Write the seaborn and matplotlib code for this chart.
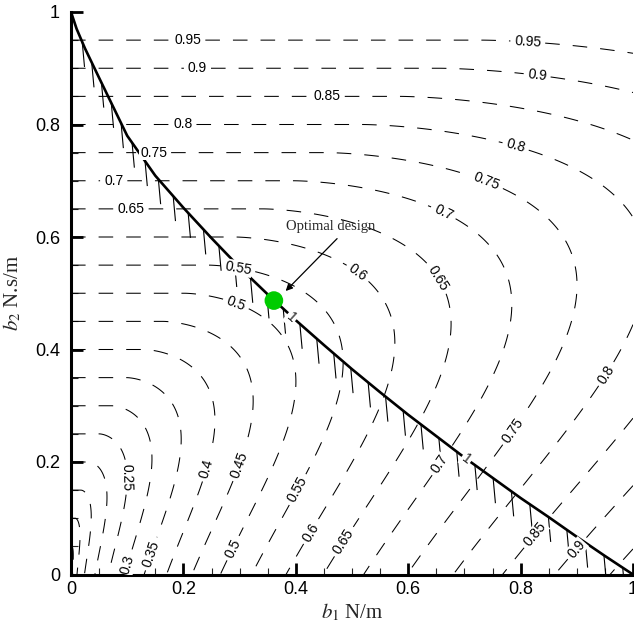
import numpy as np
import matplotlib
matplotlib.use("Agg")
import matplotlib.pyplot as plt
import seaborn as sns
from matplotlib.ticker import MultipleLocator, FuncFormatter
from matplotlib.collections import LineCollection

# ---------------- data ----------------
contour_levels = [0.05, 0.10, 0.15, 0.20, 0.25, 0.30, 0.35, 0.40, 0.45, 0.50,
                  0.55, 0.60, 0.65, 0.70, 0.75, 0.80, 0.85, 0.90, 0.95]

# objective field model f(b1, b2): f = b2 along b1 = 0, f ~ 0.97*sqrt(b1) along b2 = 0
FIELD_SCALE = 0.97
FIELD_SKEW = 0.9

# constraint boundary (value 1)
constraint_b1 = [0.0, 0.01, 0.025, 0.05, 0.10, 0.15, 0.20, 0.25, 0.30, 0.35,
                 0.40, 0.45, 0.50, 0.55, 0.60, 0.65, 0.70, 0.75, 0.80, 0.85,
                 0.90, 0.95, 1.0]
constraint_b2 = [1.0, 0.970, 0.935, 0.883, 0.780, 0.709, 0.652, 0.598, 0.546, 0.498,
                 0.452, 0.408, 0.365, 0.324, 0.284, 0.246, 0.208, 0.172, 0.136, 0.102,
                 0.067, 0.033, 0.0]

optimum_b1 = [0.361]
optimum_b2 = [0.487]

tick_values = [0, 0.2, 0.4, 0.6, 0.8, 1.0]

# contour label anchor points
label_points = [
    (0.208, 0.95), (0.813, 0.95),
    (0.225, 0.90), (0.831, 0.90),
    (0.456, 0.85),
    (0.199, 0.80), (0.794, 0.771), (0.936, 0.366),
    (0.147, 0.748), (0.742, 0.704), (0.785, 0.257),
    (0.076, 0.697), (0.663, 0.644), (0.657, 0.196),
    (0.107, 0.651), (0.630, 0.512), (0.480, 0.062),
    (0.506, 0.530), (0.420, 0.079),
    (0.298, 0.549), (0.405, 0.150),
    (0.297, 0.490), (0.284, 0.049),
    (0.297, 0.196),
    (0.236, 0.190),
    (0.142, 0.037),
    (0.094, 0.020),
    (0.092, 0.173),
    (0.817, 0.079), (0.883, 0.060),
]

# ---------------- style ----------------
sns.set_theme(style="white")
plt.rcParams["font.family"] = ["Liberation Sans", "DejaVu Sans"]
plt.rcParams["mathtext.fontset"] = "stix"

fig = plt.figure(figsize=(6.34, 6.32), dpi=100)
ax = fig.add_axes([71 / 634, 57.5 / 632, 562 / 634, 562.5 / 632])

# field
g1, g2 = np.meshgrid(np.linspace(0, 1, 501), np.linspace(0, 1, 501))
s = np.sqrt(g1)
q = FIELD_SCALE * np.sqrt(np.clip(s * (s - FIELD_SKEW * g2), 0, None))
F = np.cbrt(g2 ** 3 + q ** 3)

cs = ax.contour(g1, g2, F, levels=contour_levels, colors="black",
                linewidths=0.75, linestyles="dashed")
cs.set_linestyle((0, (14, 12.5)))

ax.clabel(cs, levels=contour_levels, manual=label_points, inline=True,
          inline_spacing=4, fmt="%g", fontsize=10)
for t in cs.labelTexts:
    t.set_bbox(dict(boxstyle="square,pad=0.05", fc="white", ec="none"))
    t.set_zorder(6)

# constraint curve
sns.lineplot(x=constraint_b1, y=constraint_b2, sort=False, estimator=None,
             color="black", linewidth=1.9, ax=ax, zorder=4)

ax.set_xlim(0, 1)
ax.set_ylim(0, 1)

# hatching below the constraint
pts = ax.transData.transform(np.column_stack([constraint_b1, constraint_b2]))
seglen = np.hypot(*np.diff(pts, axis=0).T)
cum = np.concatenate([[0], np.cumsum(seglen)])
svals = np.arange(32, cum[-1] - 12, 22.5)
hx = np.interp(svals, cum, pts[:, 0])
hy = np.interp(svals, cum, pts[:, 1])
inv = ax.transData.inverted()
starts = inv.transform(np.column_stack([hx, hy]))
ends = inv.transform(np.column_stack([hx + 2.3, hy - 25]))
ax.add_collection(LineCollection(np.stack([starts, ends], axis=1),
                                 colors="black", linewidths=0.8, zorder=4))

# labels "1" on constraint
for (x, y, r) in [(0.392, 0.457, -42), (0.704, 0.206, -37)]:
    ax.text(x, y, "1", rotation=r, rotation_mode="anchor", ha="center",
            va="center", fontsize=10, zorder=6,
            bbox=dict(boxstyle="square,pad=0.1", fc="white", ec="none"))

# optimum point
sns.scatterplot(x=optimum_b1, y=optimum_b2, s=180, color="#00cc00",
                edgecolor="none", ax=ax, zorder=7, legend=False)

ax.annotate("Optimal design", xy=(0.382, 0.504), xytext=(0.462, 0.618),
            ha="center", va="center", fontsize=10.5, family="Liberation Serif",
            arrowprops=dict(arrowstyle="-|>", color="black", lw=0.9,
                            mutation_scale=10, shrinkA=2, shrinkB=0,
                            relpos=(0.63, 0.0)), zorder=8)

# axes styling
ax.set_xticks(tick_values)
ax.set_yticks(tick_values)
fmt = FuncFormatter(lambda v, p: "%g" % v)
ax.xaxis.set_major_formatter(fmt)
ax.yaxis.set_major_formatter(fmt)
ax.xaxis.set_minor_locator(MultipleLocator(0.05))
ax.yaxis.set_minor_locator(MultipleLocator(0.05))
ax.tick_params(which="major", direction="in", length=8.5, width=2,
               labelsize=13, pad=5, colors="black")
ax.tick_params(which="minor", direction="in", length=5, width=0.8)
ax.tick_params(axis="y", which="major", pad=8)
ax.tick_params(bottom=True, left=True, top=False, right=False, which="both")
for side in ["top", "right"]:
    ax.spines[side].set_visible(False)
for side in ["left", "bottom"]:
    ax.spines[side].set_linewidth(2.2)
    ax.spines[side].set_color("black")
ax.set_facecolor("white")

ax.set_xlabel(r"$b_1$ N/m", fontsize=15, family="Liberation Serif", labelpad=2)
ax.set_ylabel(r"$b_2$ N.s/m", fontsize=15, family="Liberation Serif", labelpad=8)

fig.savefig("out.png", dpi=100, facecolor="white")
